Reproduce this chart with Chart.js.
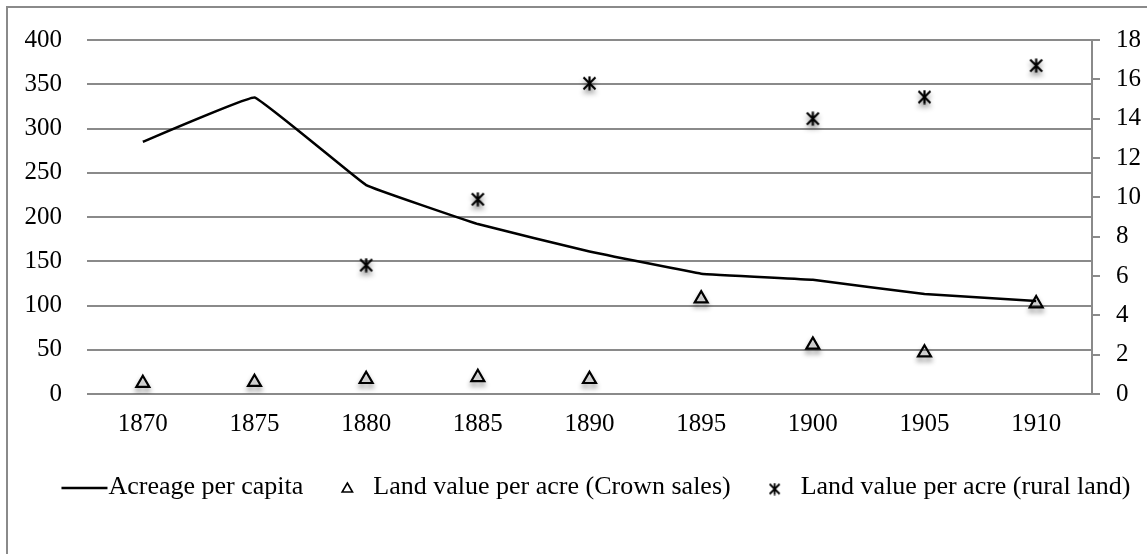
<!DOCTYPE html>
<html>
<head>
<meta charset="utf-8">
<script src="https://cdn.jsdelivr.net/npm/chart.js@4/dist/chart.umd.min.js"></script>
<style>
  html, body { margin: 0; padding: 0; background: #fff; overflow: hidden; }
  #wrap { position: relative; width: 1147px; height: 554px; }
  #frame { position: absolute; left: 6px; top: 6px; width: 1190px; height: 590px; border: 2px solid #8a8a8a; box-sizing: border-box; }
  canvas { position: absolute; left: 0; top: 0; }
</style>
</head>
<body>
<div id="wrap">
  <div id="frame"></div>
  <canvas id="c" width="1147" height="554"></canvas>
</div>
<script>
// ---- data ----
const years = ['1870', '1875', '1880', '1885', '1890', '1895', '1900', '1905', '1910'];
const acreagePerCapita = [285, 335, 236, 192, 161, 136, 129, 113, 105];
const crownSalesValue = [0.55, 0.6, 0.75, 0.85, 0.75, 4.85, 2.5, 2.1, 4.6];
const ruralLandValue = [null, null, 6.55, 9.9, 15.8, null, 14.0, 15.1, 16.7];
const leftTicks = [0, 50, 100, 150, 200, 250, 300, 350, 400];
const rightTicks = [0, 2, 4, 6, 8, 10, 12, 14, 16, 18];
const seriesLabels = ['Acreage per capita', 'Land value per acre (Crown sales)', 'Land value per acre (rural land)'];

// ---- custom asterisk marker ----
function makeAsterisk(size, lw) {
  const c = document.createElement('canvas');
  c.width = size; c.height = size;
  const g = c.getContext('2d');
  g.strokeStyle = '#000';
  g.lineWidth = lw;
  const m = 1.5;
  g.beginPath();
  g.moveTo(m, m); g.lineTo(size - m, size - m);
  g.moveTo(size - m, m); g.lineTo(m, size - m);
  g.moveTo(size / 2, 0.5); g.lineTo(size / 2, size - 0.5);
  g.stroke();
  return c;
}
const asterisk = makeAsterisk(15, 2.2);
const asteriskSmall = makeAsterisk(13, 1.8);

const FONT = '"Liberation Serif", "Times New Roman", serif';
const GRID = '#8a8a8a';

// shadow for marker datasets
const shadowPlugin = {
  id: 'markerShadow',
  beforeDatasetDraw(chart, args) {
    const ds = chart.data.datasets[args.index];
    if (ds.showLine === false) {
      const ctx = chart.ctx;
      ctx.save();
      ctx.shadowColor = 'rgba(0,0,0,0.45)';
      ctx.shadowBlur = 5;
      ctx.shadowOffsetY = 4;
    }
  },
  afterDatasetDraw(chart, args) {
    const ds = chart.data.datasets[args.index];
    if (ds.showLine === false) chart.ctx.restore();
  }
};

// custom legend drawn on the canvas (Excel-like spacing)
const legendPlugin = {
  id: 'excelLegend',
  afterDraw(chart) {
    const ctx = chart.ctx;
    const y = 487;
    const centerX = 596;
    ctx.save();
    ctx.font = '26px ' + FONT;
    ctx.textBaseline = 'middle';
    const lineLen = 46, symToText = 26, textToSym = 44;
    const items = chart.data.datasets.map((ds) => ({ ds, isLine: ds.showLine !== false, tw: ctx.measureText(ds.label).width }));
    let total = 0;
    items.forEach((it) => {
      if (it.isLine) total += lineLen + 1 + it.tw;
      else total += textToSym + symToText + it.tw;
    });
    let x = centerX - total / 2;
    items.forEach((it) => {
      if (it.isLine) {
        ctx.strokeStyle = '#000';
        ctx.lineWidth = 2.5;
        ctx.beginPath(); ctx.moveTo(x, y + 1); ctx.lineTo(x + lineLen, y + 1); ctx.stroke();
        x += lineLen + 1;
      } else {
        const cx = x + textToSym;
        ctx.strokeStyle = '#000';
        ctx.fillStyle = 'rgba(0,0,0,0)';
        ctx.lineWidth = 1.6;
        const isTri = it.ds.pointStyle === 'triangle';
        Chart.helpers.drawPoint(ctx, { pointStyle: isTri ? 'triangle' : asteriskSmall, radius: isTri ? 6 : 6.5, rotation: 0, borderWidth: 1.6 }, cx, y + 2);
        x = cx + symToText;
      }
      ctx.fillStyle = '#000';
      ctx.fillText(it.ds.label, x, y);
      x += it.tw;
    });
    ctx.restore();
  }
};

new Chart(document.getElementById('c'), {
  type: 'line',
  data: {
    labels: years,
    datasets: [
      {
        label: seriesLabels[0],
        data: acreagePerCapita,
        yAxisID: 'y',
        borderColor: '#000',
        borderWidth: 2.5,
        pointRadius: 0,
        tension: 0.06,
        fill: false
      },
      {
        label: seriesLabels[1],
        data: crownSalesValue,
        yAxisID: 'y1',
        showLine: false,
        pointStyle: 'triangle',
        pointRadius: 7.5,
        pointBorderWidth: 2.2,
        pointBorderColor: '#000',
        pointBackgroundColor: 'rgba(255,255,255,0)',
        borderColor: '#000',
        backgroundColor: 'rgba(255,255,255,0)'
      },
      {
        label: seriesLabels[2],
        data: ruralLandValue,
        yAxisID: 'y1',
        showLine: false,
        pointStyle: asterisk,
        pointRadius: 7.5,
        borderColor: '#000',
        backgroundColor: '#000'
      }
    ]
  },
  options: {
    responsive: false,
    animation: false,
    devicePixelRatio: 1,
    layout: { padding: { left: 0, right: 0, top: 37, bottom: 100 } },
    plugins: { legend: { display: false }, tooltip: { enabled: false } },
    scales: {
      x: {
        offset: true,
        grid: { display: false, drawTicks: false },
        border: { display: false },
        ticks: { color: '#000', font: { family: FONT, size: 25 }, padding: 15, maxRotation: 0 },
        afterFit(s) { s.height = 60; }
      },
      y: {
        position: 'left',
        min: 0, max: 400,
        afterBuildTicks(s) { s.ticks = leftTicks.map(v => ({ value: v })); },
        grid: { color: GRID, lineWidth: 2, drawTicks: false },
        border: { display: false },
        ticks: { color: '#000', font: { family: FONT, size: 25 }, padding: 25 },
        afterFit(s) { s.width = 87; }
      },
      y1: {
        position: 'right',
        min: 0, max: 18,
        afterBuildTicks(s) { s.ticks = rightTicks.map(v => ({ value: v })); },
        grid: { drawOnChartArea: false, color: GRID, lineWidth: 2, tickLength: 8 },
        border: { display: true, color: GRID, width: 2 },
        ticks: { color: '#000', font: { family: FONT, size: 25 }, padding: 16, align: 'center' },
        afterFit(s) { s.width = 55; }
      }
    }
  },
  plugins: [shadowPlugin, legendPlugin]
});
</script>
</body>
</html>
